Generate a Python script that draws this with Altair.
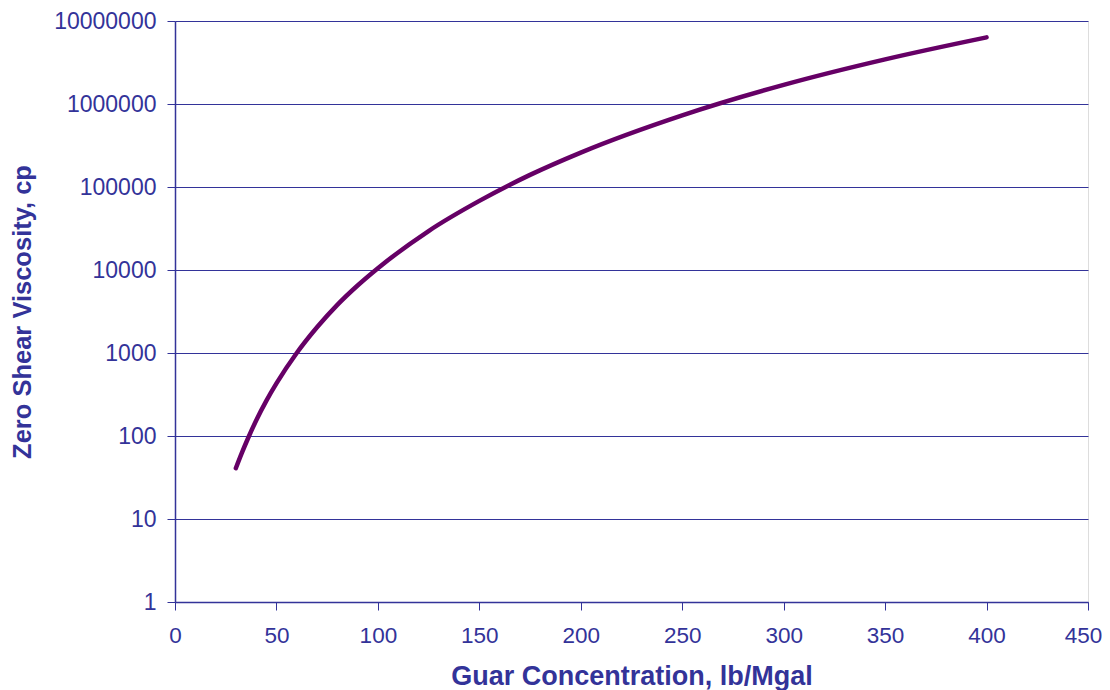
import altair as alt
import pandas as pd

# Values
concentration = [30, 33, 36, 40, 45, 50, 60, 70, 80, 90, 100, 125, 150, 175,
                 200, 250, 300, 350, 400]
viscosity = [41, 63, 94, 154, 265, 430, 1000, 2040, 3800, 6500, 10500, 29500,
             68000, 140000, 260000, 730000, 1700000, 3450000, 6350000]

x_ticks = [0, 50, 100, 150, 200, 250, 300, 350, 400, 450]
y_ticks = [1, 10, 100, 1000, 10000, 100000, 1000000, 10000000]

df = pd.DataFrame({"conc": concentration, "visc": viscosity})

AX = "#333399"
LINE = "#660066"
FONT = "Liberation Sans"

chart = alt.Chart(df).mark_line(
    color=LINE, strokeWidth=4.5, strokeCap="round", interpolate="monotone"
).encode(
    x=alt.X(
        "conc:Q",
        scale=alt.Scale(domain=[0, 450], nice=False, zero=False),
        axis=alt.Axis(
            values=x_ticks,
            title="Guar Concentration, lb/Mgal",
            grid=False, labelFlush=False,
            labelOffset={"expr": "datum.value == 450 ? -5 : 0"},
            domainColor=AX, tickColor=AX, tickSize=8, domainWidth=1.5, tickWidth=1,
            labelColor=AX, labelFont=FONT, labelFontSize=22.5, labelPadding=14,
            titleColor=AX, titleFont=FONT, titleFontSize=27, titleFontWeight="bold",
            titleY=82, titleBaseline="alphabetic",
        ),
    ),
    y=alt.Y(
        "visc:Q",
        scale=alt.Scale(type="log", domain=[1, 10000000], nice=False),
        axis=alt.Axis(
            values=y_ticks,
            format="d",
            title="Zero Shear Viscosity, cp",
            grid=True, gridColor=AX, gridWidth=1, labelFlush=False,
            domainColor=AX, tickColor=AX, tickSize=8, domainWidth=1.5, tickWidth=1,
            labelColor=AX, labelFont=FONT, labelFontSize=23, labelPadding=11,
            titleColor=AX, titleFont=FONT, titleFontSize=25.5, titleFontWeight="bold",
            titleX=-153, titleBaseline="middle",
        ),
    ),
).properties(
    width=913,
    height=581,
    autosize=alt.AutoSizeParams(type="none"),
    padding={"left": 167, "top": 13, "right": 14, "bottom": 88},
).configure_view(
    stroke=AX, strokeWidth=1.5
).configure(background="white")

chart.save("out.html", embed_options={"renderer": "svg", "actions": False})
